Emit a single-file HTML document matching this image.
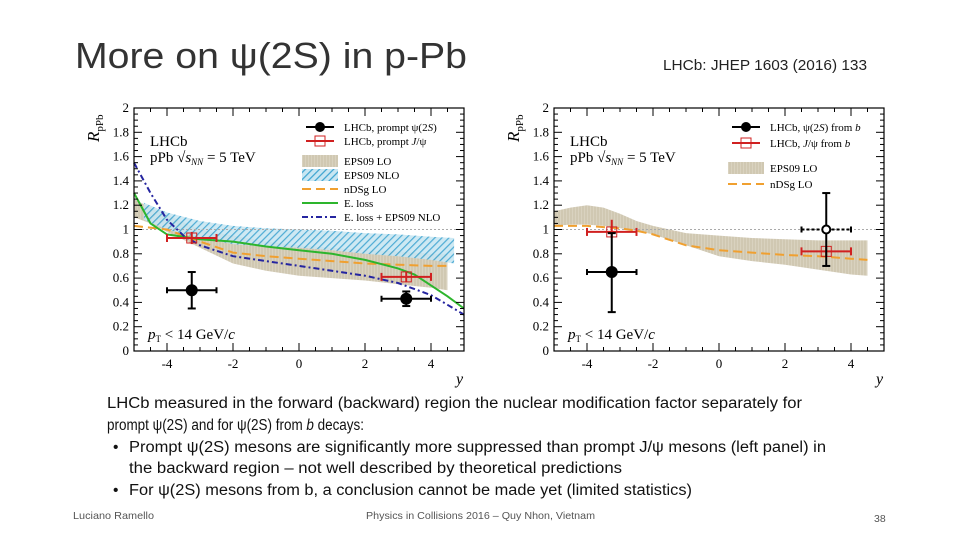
<!DOCTYPE html>
<html><head><meta charset="utf-8"><style>
html,body{margin:0;padding:0;background:#fff;}
svg{display:block;font-family:"Liberation Sans",sans-serif;}
.ser{font-family:"Liberation Serif",serif;}
</style></head><body>
<svg id="s" width="960" height="540" viewBox="0 0 960 540" xmlns="http://www.w3.org/2000/svg">
<defs>
<pattern id="hatch" width="5" height="5" patternUnits="userSpaceOnUse" patternTransform="rotate(45)">
<rect width="5" height="5" fill="#c8e6f2"/><line x1="0" y1="0" x2="0" y2="5" stroke="#3aa2cf" stroke-width="2.4"/></pattern>
<pattern id="vstripe" width="3" height="3" patternUnits="userSpaceOnUse">
<rect width="3" height="3" fill="#d9d2bf"/><line x1="1" y1="0" x2="1" y2="3" stroke="#c7bea6" stroke-width="1"/></pattern>
</defs>
<text x="75" y="68" font-size="36" fill="#333" textLength="392" lengthAdjust="spacingAndGlyphs">More on ψ(2S) in p-Pb</text>
<text x="663" y="70" font-size="14.5" fill="#222" textLength="204" lengthAdjust="spacingAndGlyphs">LHCb: JHEP 1603 (2016) 133</text>
<g id="left"></g>
<g id="right"></g>
<g font-size="15.5" fill="#111">
<text x="107" y="408" textLength="695" lengthAdjust="spacingAndGlyphs">LHCb measured in the forward (backward) region the nuclear modification factor separately for</text>
<text x="107" y="430" textLength="257" lengthAdjust="spacingAndGlyphs">prompt ψ(2S) and for ψ(2S) from <tspan font-style="italic">b</tspan> decays:</text>
<text x="113" y="452">•</text>
<text x="129" y="452" textLength="697" lengthAdjust="spacingAndGlyphs">Prompt ψ(2S) mesons are significantly more suppressed than prompt J/ψ mesons (left panel) in</text>
<text x="129" y="473" textLength="493" lengthAdjust="spacingAndGlyphs">the backward region – not well described by theoretical predictions</text>
<text x="113" y="495">•</text>
<text x="129" y="495" textLength="563" lengthAdjust="spacingAndGlyphs">For ψ(2S) mesons from b, a conclusion cannot be made yet (limited statistics)</text>
</g>
<text x="73" y="519" font-size="10.5" fill="#555" textLength="81" lengthAdjust="spacingAndGlyphs">Luciano Ramello</text>
<text x="366" y="519" font-size="10.5" fill="#555" textLength="229" lengthAdjust="spacingAndGlyphs">Physics in Collisions 2016 – Quy Nhon, Vietnam</text>
<text x="874" y="522" font-size="10.5" fill="#555">38</text>
</svg>
<script>
// ---- Left panel data (prompt) ----
const yTicks=[0,0.2,0.4,0.6,0.8,1,1.2,1.4,1.6,1.8,2];
const yTickLabels=["0","0.2","0.4","0.6","0.8","1","1.2","1.4","1.6","1.8","2"];
const xTicks=[-4,-2,0,2,4];
const xTickLabels=["-4","-2","0","2","4"];
const L_psiX=[-3.25,3.25], L_psiY=[0.50,0.43], L_psiXlo=[-4,2.5], L_psiXhi=[-2.5,4], L_psiYlo=[0.35,0.37], L_psiYhi=[0.65,0.49];
const L_jpsiX=[-3.25,3.25], L_jpsiY=[0.93,0.61], L_jpsiXlo=[-4,2.5], L_jpsiXhi=[-2.5,4], L_jpsiYlo=[0.88,0.57], L_jpsiYhi=[0.98,0.65];
const L_loX=[-5,-4.5,-4,-3,-2,-1,0,1,2,3,4,4.5];
const L_loLo=[1.1,1.05,0.98,0.85,0.72,0.66,0.62,0.6,0.58,0.55,0.52,0.5];
const L_loHi=[1.25,1.18,1.12,1.0,0.95,0.9,0.87,0.85,0.83,0.82,0.8,0.8];
const L_nloX=[-4.7,-4,-3,-2,-1,0,1,2,3,4,4.7];
const L_nloLo=[1.08,1.0,0.93,0.88,0.86,0.85,0.83,0.8,0.78,0.75,0.72];
const L_nloHi=[1.22,1.14,1.07,1.03,1.01,1.0,0.99,0.97,0.96,0.94,0.93];
const L_ndsX=[-5,-4,-3,-2,-1,0,1,2,3,4,4.5];
const L_ndsY=[1.03,1.0,0.9,0.81,0.78,0.76,0.74,0.72,0.71,0.7,0.7];
const L_elX=[-5,-4.5,-4,-3,-2,-1,0,1,2,3,3.5,4,4.5,5];
const L_elY=[1.3,1.05,0.96,0.92,0.9,0.86,0.83,0.8,0.75,0.68,0.63,0.54,0.45,0.35];
const L_elnX=[-5,-4.5,-4,-3.5,-3,-2,-1,0,1,2,3,4,4.5,5];
const L_elnY=[1.55,1.3,1.08,0.95,0.87,0.78,0.74,0.7,0.66,0.62,0.56,0.46,0.38,0.3];
// ---- Right panel data (from b) ----
const R_psiX=[-3.25,3.25], R_psiY=[0.65,1.0], R_psiXlo=[-4,2.5], R_psiXhi=[-2.5,4], R_psiYlo=[0.32,0.7], R_psiYhi=[0.97,1.3];
const R_jpsiX=[-3.25,3.25], R_jpsiY=[0.98,0.82], R_jpsiXlo=[-4,2.5], R_jpsiXhi=[-2.5,4], R_jpsiYlo=[0.93,0.78], R_jpsiYhi=[1.08,0.86];
const R_loX=[-5,-4.5,-4,-3.5,-3,-2.5,-2,-1,0,1,2,3,4,4.5];
const R_loLo=[1.03,1.04,1.04,1.03,1.01,0.99,0.96,0.87,0.78,0.74,0.71,0.67,0.63,0.62];
const R_loHi=[1.15,1.18,1.2,1.18,1.13,1.07,1.03,0.97,0.95,0.93,0.92,0.91,0.91,0.91];
const R_ndsX=[-5,-4,-3,-2.5,-2,-1,0,1,2,3,4,4.5];
const R_ndsY=[1.03,1.03,1.01,0.99,0.96,0.87,0.83,0.81,0.79,0.78,0.76,0.75];

const NS="http://www.w3.org/2000/svg";
function mk(p,tag,at){const e=document.createElementNS(NS,tag);for(const k in at)e.setAttribute(k,at[k]);p.appendChild(e);return e;}
function draw(g,x0,cfg){
  const L=x0+134,R=x0+464,T=108,B=351;
  const sx=v=>L+(v+5)*(R-L)/10, sy=v=>B-v*(B-T)/2;
  const line=(xs,ys)=>xs.map((v,i)=>(i?'L':'M')+sx(v).toFixed(1)+' '+sy(ys[i]).toFixed(1)).join(' ');
  const band=(xs,lo,hi)=>line(xs,hi)+' '+xs.slice().reverse().map((v,i)=>'L'+sx(v).toFixed(1)+' '+sy(lo[lo.length-1-i]).toFixed(1)).join(' ')+'Z';
  let e;
  e=mk(g,'path',{d:band(cfg.loX,cfg.loLo,cfg.loHi),fill:'url(#vstripe)'});
  
  if(cfg.nloX){e=mk(g,'path',{d:band(cfg.nloX,cfg.nloLo,cfg.nloHi),fill:'url(#hatch)',opacity:0.9});
  }
  e=mk(g,'line',{x1:L,x2:R,y1:sy(1),y2:sy(1),stroke:'#aaa','stroke-dasharray':'2 2'});
  
  e=mk(g,'path',{d:line(cfg.ndsX,cfg.ndsY),fill:'none',stroke:'#f0a030','stroke-width':2,'stroke-dasharray':'9 5'});
  
  if(cfg.elX){e=mk(g,'path',{d:line(cfg.elX,cfg.elY),fill:'none',stroke:'#2db52d','stroke-width':2});
  
  e=mk(g,'path',{d:line(cfg.elnX,cfg.elnY),fill:'none',stroke:'#2525a0','stroke-width':2,'stroke-dasharray':'6 3 2 3'});
  }
  cfg.jX.forEach((v,i)=>{const gg=mk(g,'g',{stroke:'#d02020','stroke-width':2,fill:'none'});
    
    mk(gg,'line',{x1:sx(cfg.jXlo[i]),x2:sx(cfg.jXhi[i]),y1:sy(cfg.jY[i]),y2:sy(cfg.jY[i])});
    mk(gg,'line',{x1:sx(v),x2:sx(v),y1:sy(cfg.jYlo[i]),y2:sy(cfg.jYhi[i])});
    [cfg.jXlo[i],cfg.jXhi[i]].forEach(q=>mk(gg,'line',{x1:sx(q),x2:sx(q),y1:sy(cfg.jY[i])-4,y2:sy(cfg.jY[i])+4}));
    mk(gg,'rect',{x:sx(v)-5,y:sy(cfg.jY[i])-5,width:10,height:10,'stroke-width':1});});
  cfg.pX.forEach((v,i)=>{const gg=mk(g,'g',{stroke:'#000','stroke-width':2});
    
    mk(gg,'line',{x1:sx(cfg.pXlo[i]),x2:sx(cfg.pXhi[i]),y1:sy(cfg.pY[i]),y2:sy(cfg.pY[i]),'stroke-dasharray':cfg.dot&&i==1?'3 2':'none'});
    mk(gg,'line',{x1:sx(v),x2:sx(v),y1:sy(cfg.pYlo[i]),y2:sy(cfg.pYhi[i])});
    [cfg.pYlo[i],cfg.pYhi[i]].forEach(q=>mk(gg,'line',{x1:sx(v)-4,x2:sx(v)+4,y1:sy(q),y2:sy(q)}));
    [cfg.pXlo[i],cfg.pXhi[i]].forEach(q=>mk(gg,'line',{x1:sx(q),x2:sx(q),y1:sy(cfg.pY[i])-3,y2:sy(cfg.pY[i])+3}));
    mk(gg,'circle',{cx:sx(v),cy:sy(cfg.pY[i]),r:cfg.dot&&i==1?4:5,fill:cfg.dot&&i==1?'#fff':'#000'});});
  e=mk(g,'rect',{x:L,y:T,width:R-L,height:B-T,fill:'none',stroke:'#000','stroke-width':1.2});
  
  yTicks.forEach((v,i)=>{mk(g,'line',{x1:L,x2:L+8,y1:sy(v),y2:sy(v),stroke:'#000'});mk(g,'line',{x1:R,x2:R-8,y1:sy(v),y2:sy(v),stroke:'#000'});
    if(i<yTicks.length-1)for(let k=1;k<4;k++){const m=sy(v+k*0.05);mk(g,'line',{x1:L,x2:L+4,y1:m,y2:m,stroke:'#000'});mk(g,'line',{x1:R,x2:R-4,y1:m,y2:m,stroke:'#000'});}
    const t=mk(g,'text',{x:L-5,y:sy(v)+4,'font-size':13,'text-anchor':'end',class:'ser'});t.textContent=yTickLabels[i];
    });
  for(let v=-5;v<=5;v+=0.5){const big=v%2===0;mk(g,'line',{x1:sx(v),x2:sx(v),y1:B,y2:B-(big?8:4),stroke:'#000'});mk(g,'line',{x1:sx(v),x2:sx(v),y1:T,y2:T+(big?8:4),stroke:'#000'});}
  xTicks.forEach((v,i)=>{const t=mk(g,'text',{x:sx(v),y:B+17,'font-size':13,'text-anchor':'middle',class:'ser'});t.textContent=xTickLabels[i];
    });
  e=mk(g,'text',{x:R-8,y:B+33,'font-size':16,'font-style':'italic',class:'ser'});e.textContent='y';
  
  e=mk(g,'text',{transform:`translate(${x0+99},142) rotate(-90)`,'font-size':17,'font-style':'italic',class:'ser'});e.innerHTML='R<tspan font-size="11" font-style="normal" dy="4">pPb</tspan>';
  
  e=mk(g,'text',{x:L+16,y:146,'font-size':15,class:'ser'});e.textContent='LHCb';
  e=mk(g,'text',{x:L+16,y:162,'font-size':15,class:'ser'});e.innerHTML='pPb √<tspan font-style="italic">s</tspan><tspan font-size="9" dy="3" font-style="italic">NN</tspan><tspan dy="-3"> = 5 TeV</tspan>';
  
  e=mk(g,'text',{x:L+14,y:339,'font-size':15,class:'ser'});e.innerHTML='<tspan font-style="italic">p</tspan><tspan font-size="9" dy="3">T</tspan><tspan dy="-3"> &lt; 14 GeV/</tspan><tspan font-style="italic">c</tspan>';
  
  const lx=x0+cfg.legX;
  cfg.leg.forEach(([kind,label,yy])=>{const gg=mk(g,'g',{});
    const m=lx+18;
    if(kind==='psi'){mk(gg,'line',{x1:m-14,x2:m+14,y1:yy,y2:yy,stroke:'#000','stroke-width':2});mk(gg,'circle',{cx:m,cy:yy,r:5});}
    if(kind==='jpsi'){mk(gg,'line',{x1:m-14,x2:m+14,y1:yy,y2:yy,stroke:'#d02020','stroke-width':2});mk(gg,'rect',{x:m-5,y:yy-5,width:10,height:10,fill:'none',stroke:'#d02020'});}
    if(kind==='lo')mk(gg,'rect',{x:lx,y:yy-6,width:36,height:12,fill:'url(#vstripe)'});
    if(kind==='nlo')mk(gg,'rect',{x:lx,y:yy-6,width:36,height:12,fill:'url(#hatch)'});
    if(kind==='nds')mk(gg,'line',{x1:lx,x2:lx+36,y1:yy,y2:yy,stroke:'#f0a030','stroke-width':2,'stroke-dasharray':'9 5'});
    if(kind==='el')mk(gg,'line',{x1:lx,x2:lx+36,y1:yy,y2:yy,stroke:'#2db52d','stroke-width':2});
    if(kind==='eln')mk(gg,'line',{x1:lx,x2:lx+36,y1:yy,y2:yy,stroke:'#2525a0','stroke-width':2,'stroke-dasharray':'6 3 2 3'});
    const t=mk(gg,'text',{x:lx+42,y:yy+4,'font-size':11,class:'ser'});t.innerHTML=label;});
}
draw(document.getElementById('left'),0,{loX:L_loX,loLo:L_loLo,loHi:L_loHi,nloX:L_nloX,nloLo:L_nloLo,nloHi:L_nloHi,ndsX:L_ndsX,ndsY:L_ndsY,
  elX:L_elX,elY:L_elY,elnX:L_elnX,elnY:L_elnY,
  jX:L_jpsiX,jY:L_jpsiY,jXlo:L_jpsiXlo,jXhi:L_jpsiXhi,jYlo:L_jpsiYlo,jYhi:L_jpsiYhi,
  pX:L_psiX,pY:L_psiY,pXlo:L_psiXlo,pXhi:L_psiXhi,pYlo:L_psiYlo,pYhi:L_psiYhi,legX:302,
  leg:[['psi','LHCb, prompt ψ(2<tspan font-style="italic">S</tspan>)',127],['jpsi','LHCb, prompt <tspan font-style="italic">J</tspan>/ψ',141],['lo','EPS09 LO',161],['nlo','EPS09 NLO',175],['nds','nDSg LO',189],['el','E. loss',203],['eln','E. loss + EPS09 NLO',217]]});
draw(document.getElementById('right'),420,{loX:R_loX,loLo:R_loLo,loHi:R_loHi,ndsX:R_ndsX,ndsY:R_ndsY,
  jX:R_jpsiX,jY:R_jpsiY,jXlo:R_jpsiXlo,jXhi:R_jpsiXhi,jYlo:R_jpsiYlo,jYhi:R_jpsiYhi,
  pX:R_psiX,pY:R_psiY,pXlo:R_psiXlo,pXhi:R_psiXhi,pYlo:R_psiYlo,pYhi:R_psiYhi,dot:true,legX:308,
  leg:[['psi','LHCb, ψ(2<tspan font-style="italic">S</tspan>) from <tspan font-style="italic">b</tspan>',127],['jpsi','LHCb, <tspan font-style="italic">J</tspan>/ψ from <tspan font-style="italic">b</tspan>',143],['lo','EPS09 LO',168],['nds','nDSg LO',184]]});
</script>
</body></html>
